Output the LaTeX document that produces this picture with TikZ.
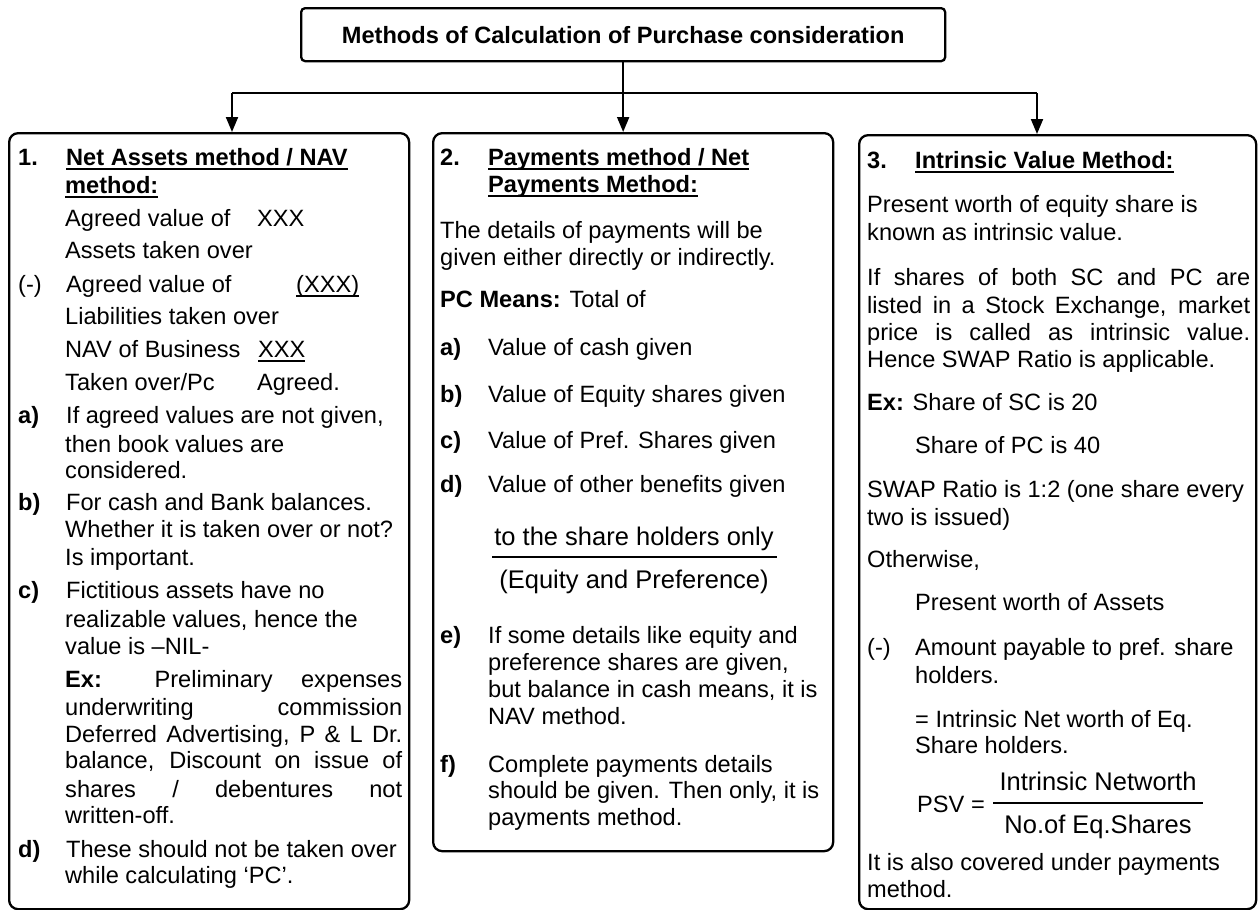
\documentclass[tikz,border=0pt]{standalone}
\usepackage{fontspec}
\setmainfont{Liberation Sans}
\usetikzlibrary{arrows.meta}

% text helpers
\newcommand\bodyfont{\fontsize{23.6}{28}\selectfont}
\newcommand\fracfont{\fontsize{25.5}{30}\selectfont}
\newsavebox\undlbox
\newcommand\undl[2][2pt]{\sbox\undlbox{#2}\rlap{\rule[-4.5pt]{\wd\undlbox}{#1}}\usebox\undlbox}
\newcommand\lab[1]{\makebox[48pt][l]{#1}}
\newcommand\justl[2]{\makebox[#1][s]{#2}}

\begin{document}
\begin{tikzpicture}[x=1pt,y=-1pt,
  txt/.style={anchor=base west, inner sep=0pt, font=\bodyfont},
  ctr/.style={anchor=base, inner sep=0pt, font=\fracfont},
  panel/.style={draw, line width=2.3pt, rounded corners=9pt, anchor=north west, inner sep=0pt},
  headbox/.style={draw, line width=2.3pt, rounded corners=4pt, anchor=north west, inner sep=0pt, font=\bodyfont\bfseries},
  link/.style={line width=2pt, -{Triangle[length=15pt,width=12pt]}},
  tie/.style={line width=2pt},
  bar/.style={line width=1.8pt}]
\useasboundingbox (0,0) rectangle (1258,910);

% ---------- boxes ----------
\node[headbox, minimum width=644pt, minimum height=53pt] (title) at (300,7)
  {Methods of Calculation of Purchase consideration};
\node[panel, minimum width=400pt, minimum height=776pt] (nav) at (8,132) {};
\node[panel, minimum width=400pt, minimum height=718pt] (pay) at (432,132) {};
\node[panel, minimum width=397pt, minimum height=774pt] (iv) at (858,134) {};

% ---------- connectors ----------
\coordinate (jl) at (232,93);
\coordinate (jr) at (1037,93);
\draw[tie] (jl) -- (jr);
\draw[link] (title.south) -- (title.south |- pay.north);
\draw[link] (jl) -- (jl |- nav.north);
\draw[link] (jr) -- (jr |- iv.north);

% ---------- 1. Net Assets method ----------
\node[txt] (a1) at (18,165) {\lab{\textbf{1.}}\undl{\textbf{Net Assets method / NAV}}};
\node[txt] (a2) at (65,193) {\undl{\textbf{method:}}};
\node[txt] (a3) at (65,226) {Agreed value of};
\node[txt] (a3v) at (257,226) {XXX};
\node[txt] (a4) at (65,258) {Assets taken over};
\node[txt] (a5) at (18,292) {\lab{(-)}Agreed value of};
\node[txt] (a5v) at (296,292) {\undl[1.5pt]{(XXX)}};
\node[txt] (a6) at (65,324) {Liabilities taken over};
\node[txt] (a7) at (65,357) {NAV of Business};
\node[txt] (a7v) at (258,357) {\undl[1.5pt]{XXX}};
\node[txt] (a8) at (65,390) {Taken over/Pc};
\node[txt] (a8v) at (257,390) {Agreed.};
\node[txt] (a9) at (18,423) {\lab{\textbf{a)}}If agreed values are not given,};
\node[txt] (a10) at (65,452) {then book values are};
\node[txt] (a11) at (65,478) {considered.};
\node[txt] (a12) at (18,510) {\lab{\textbf{b)}}For cash and Bank balances.};
\node[txt] (a13) at (65,537) {Whether it is taken over or not?};
\node[txt] (a14) at (65,565) {Is important.};
\node[txt] (a15) at (18,598) {\lab{\textbf{c)}}Fictitious assets have no};
\node[txt] (a16) at (65,627) {realizable values, hence the};
\node[txt] (a17) at (65,654) {value is –NIL-};
\node[txt] (a18) at (65,687) {\justl{337pt}{\textbf{Ex:} Preliminary expenses}};
\node[txt] (a19) at (65,715) {\justl{337pt}{underwriting commission}};
\node[txt] (a20) at (65,742) {\justl{337pt}{Deferred Advertising, P \& L Dr.}};
\node[txt] (a21) at (65,768) {\justl{337pt}{balance, Discount on issue of}};
\node[txt] (a22) at (65,797) {\justl{337pt}{shares / debentures not}};
\node[txt] (a23) at (65,823) {written-off.};
\node[txt] (a24) at (18,857) {\lab{\textbf{d)}}These should not be taken over};
\node[txt] (a25) at (65,883) {while calculating ‘PC’.};

% ---------- 2. Payments method ----------
\node[txt] (b1) at (440,165) {\lab{\textbf{2.}}\undl{\textbf{Payments method / Net}}};
\node[txt] (b2) at (488,192) {\undl{\textbf{Payments Method:}}};
\node[txt] (b3) at (440,238) {The details of payments will be};
\node[txt] (b4) at (440,265) {given either directly or indirectly.};
\node[txt] (b5) at (440,307) {\textbf{PC Means:} Total of};
\node[txt] (b6) at (440,355) {\lab{\textbf{a)}}Value of cash given};
\node[txt] (b7) at (440,402) {\lab{\textbf{b)}}Value of Equity shares given};
\node[txt] (b8) at (440,448) {\lab{\textbf{c)}}Value of Pref. Shares given};
\node[txt] (b9) at (440,492) {\lab{\textbf{d)}}Value of other benefits given};
\node[ctr] (bnum) at (634,545) {to the share holders only};
\node[ctr] (bden) at (634,588) {(Equity and Preference)};
\draw[bar] (492,557) -- (777,557);
\node[txt] (b10) at (440,643) {\lab{\textbf{e)}}If some details like equity and};
\node[txt] (b11) at (488,670) {preference shares are given,};
\node[txt] (b12) at (488,697) {but balance in cash means, it is};
\node[txt] (b13) at (488,724) {NAV method.};
\node[txt] (b14) at (440,772) {\lab{\textbf{f)}}Complete payments details};
\node[txt] (b15) at (488,798) {should be given. Then only, it is};
\node[txt] (b16) at (488,825) {payments method.};

% ---------- 3. Intrinsic value method ----------
\node[txt] (c1) at (867,168) {\lab{\textbf{3.}}\undl{\textbf{Intrinsic Value Method:}}};
\node[txt] (c2) at (867,212) {Present worth of equity share is};
\node[txt] (c3) at (867,240) {known as intrinsic value.};
\node[txt] (c4) at (867,285) {\justl{383pt}{If shares of both SC and PC are}};
\node[txt] (c5) at (867,313) {\justl{383pt}{listed in a Stock Exchange, market}};
\node[txt] (c6) at (867,340) {\justl{383pt}{price is called as intrinsic value.}};
\node[txt] (c7) at (867,367) {Hence SWAP Ratio is applicable.};
\node[txt] (c8) at (867,410) {\textbf{Ex:} Share of SC is 20};
\node[txt] (c9) at (915,453) {Share of PC is 40};
\node[txt] (c10) at (867,497) {SWAP Ratio is 1:2 (one share every};
\node[txt] (c11) at (867,525) {two is issued)};
\node[txt] (c12) at (867,567) {Otherwise,};
\node[txt] (c13) at (915,610) {Present worth of Assets};
\node[txt] (c14) at (867,655) {\lab{(-)}Amount payable to pref. share};
\node[txt] (c15) at (915,683) {holders.};
\node[txt] (c16) at (915,727) {= Intrinsic Net worth of Eq.};
\node[txt] (c17) at (915,753) {Share holders.};
\node[txt] (psv) at (917,812) {PSV};
\node[txt] (eq) at (971,812) {=};
\node[ctr] (cnum) at (1098,790) {Intrinsic Networth};
\node[ctr] (cden) at (1098,833) {No.of Eq.Shares};
\draw[bar] (993,803) -- (1203,803);
\node[txt] (c18) at (867,870) {It is also covered under payments};
\node[txt] (c19) at (867,897) {method.};
\end{tikzpicture}
\end{document}
